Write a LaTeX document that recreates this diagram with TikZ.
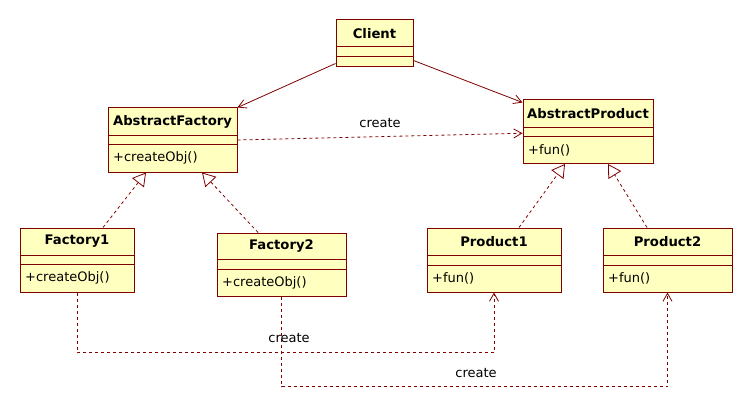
\documentclass[tikz,border=0pt]{standalone}
\usepackage{fontspec}
\setmainfont{DejaVu Sans}
\usetikzlibrary{arrows.meta}
\definecolor{boxfill}{RGB}{255,255,192}
\definecolor{maroon}{RGB}{128,0,0}
\tikzset{
  clsbox/.style={draw=maroon, fill=boxfill, line width=1pt, inner sep=0pt},
  clsline/.style={draw=maroon, line width=1pt},
  clstitle/.style={font=\fontsize{13.2}{15}\selectfont\bfseries, inner sep=0pt},
  clsop/.style={font=\fontsize{13}{15}\selectfont, inner sep=0pt, anchor=west},
  assoc/.style={draw=maroon, line width=0.8pt, -{Straight Barb[length=8pt,width=9pt,line width=0.8pt]}},
  dep/.style={draw=maroon, line width=0.8pt, dash pattern=on 3pt off 3pt, -{Straight Barb[length=8pt,width=9pt,line width=0.8pt]}},
  real/.style={draw=maroon, line width=0.8pt, dash pattern=on 3pt off 3pt, -{Triangle[open,length=13pt,width=15pt,line width=0.8pt,fill=white]}},
  lbl/.style={font=\fontsize{13}{15}\selectfont, inner sep=0pt}
}
\newcommand\umlclass[9]{%
  \node[clsbox, minimum width={(#4-#2)*1pt}, minimum height={(#5-#3)*1pt}] (#1) at ({(#2+#4)/2},{(#3+#5)/2}) {};
  \draw[clsline] (#2,#6) -- (#4,#6);
  \draw[clsline] (#2,#7) -- (#4,#7);
  \node[clstitle] (#1-t) at ({(#2+#4)/2},{(#3+#6)/2}) {#8};
  \node[clsop] (#1-o) at (#2+5,{(#7+#5)/2}) {#9};
}
\begin{document}
\begin{tikzpicture}[x=1pt,y=-1pt]
\useasboundingbox (0,0) rectangle (752,409);
\umlclass{client}{336}{20}{413}{66.5}{47}{57}{Client}{}
\umlclass{af}{108}{108}{237}{172}{136}{144.5}{AbstractFactory}{+createObj()}
\umlclass{ap}{523}{100}{653}{163.5}{128}{137}{AbstractProduct}{+fun()}
\umlclass{f1}{20}{228}{134}{292}{255}{264.5}{Factory1}{+createObj()}
\umlclass{f2}{217}{233}{346}{296}{259.5}{269}{Factory2}{+createObj()}
\umlclass{p1}{427}{228}{561}{292}{255}{265}{Product1}{+fun()}
\umlclass{p2}{603}{228}{732}{292}{255}{265}{Product2}{+fun()}
% associations
\draw[assoc] ([yshift=3.5pt]client.south west) -- (af.north east);
\draw[assoc] ([yshift=6.5pt]client.south east) -- ([yshift=-3pt]ap.north west);
% dependency create
\draw[dep] (af.east) -- node[lbl, above=9pt] (c0) {create} ([yshift=-1.5pt]ap.west);
% realizations
\draw[real] ([xshift=26pt]f1.north) -- ([xshift=-26.5pt]af.south);
\draw[real] ([xshift=-23.5pt]f2.north) -- ([xshift=29.5pt]af.south);
\draw[real] ([xshift=25pt]p1.north) -- ([xshift=-23pt]ap.south);
\draw[real] ([xshift=-20.5pt]p2.north) -- ([xshift=20pt]ap.south);
% bottom dependencies
\draw[dep] (f1.south) -- ++(0,60) -| (p1.south);
\draw[dep] (f2.south) -- ++(0,90) -| (p2.south);
\node[lbl] (c1) at (289,338) {create};
\node[lbl] (c2) at (476,373) {create};
\end{tikzpicture}
\end{document}
